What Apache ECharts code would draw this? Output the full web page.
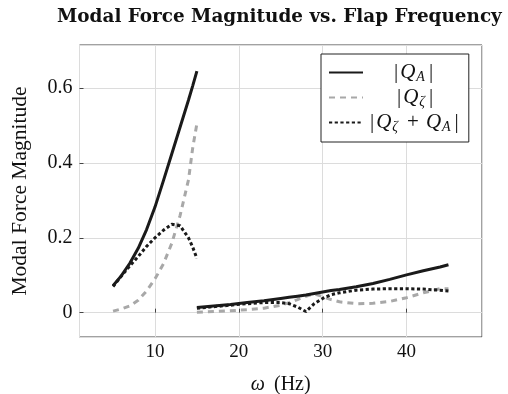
<!DOCTYPE html>
<html><head><meta charset="utf-8">
<script src="https://cdn.jsdelivr.net/npm/echarts@6/dist/echarts.min.js"></script>
<style>html,body{margin:0;padding:0;background:#fff}#c{width:508px;height:394px}</style>
</head><body><div id="c"></div>
<script>
// Segment 1 (below 15 Hz)
const freq1 = [5, 6, 7, 8, 9, 10, 11, 12, 13, 14, 14.5, 15];
const qA1   = [0.072, 0.099, 0.132, 0.172, 0.222, 0.282, 0.352, 0.424, 0.496, 0.568, 0.606, 0.645];
const qZ1   = [0.004, 0.010, 0.018, 0.033, 0.058, 0.090, 0.130, 0.185, 0.260, 0.355, 0.440, 0.505];
const qZA1  = [0.070, 0.098, 0.125, 0.150, 0.177, 0.200, 0.220, 0.236, 0.232, 0.200, 0.175, 0.145];
// Segment 2 (15 Hz and above)
const freq2 = [15, 17, 19, 21, 23, 25, 26, 27, 28, 29, 30, 31, 32, 34, 36, 38, 40, 42, 44, 45];
const qA2   = [0.014, 0.018, 0.022, 0.027, 0.032, 0.038, 0.041, 0.044, 0.047, 0.051, 0.055, 0.059, 0.062, 0.069, 0.078, 0.089, 0.101, 0.112, 0.122, 0.128];
const qZ2   = [0.001, 0.003, 0.005, 0.008, 0.012, 0.020, 0.027, 0.035, 0.044, 0.050, 0.043, 0.035, 0.029, 0.024, 0.025, 0.030, 0.040, 0.053, 0.064, 0.064];
const qZA2  = [0.012, 0.016, 0.020, 0.024, 0.027, 0.027, 0.024, 0.015, 0.003, 0.024, 0.038, 0.048, 0.053, 0.060, 0.063, 0.064, 0.064, 0.063, 0.060, 0.058];
const xTicks = [10, 20, 30, 40];
const yTicks = [0, 0.2, 0.4, 0.6];
const seriesNames = ['QA', 'QZ', 'QZA'];

function join(f1, v1, f2, v2) {
  const out = f1.map((x, i) => [x, v1[i]]);
  out.push([f1[f1.length - 1], '-']);
  f2.forEach((x, i) => out.push([x, v2[i]]));
  return out;
}

const serif = '"Liberation Serif", "DejaVu Serif", serif';
const chart = echarts.init(document.getElementById('c'), null, {renderer: 'canvas'});
const mathRich = {
  b: {fontFamily: serif, fontSize: 21, lineHeight: 25, color: '#111', padding: [0, 2, 0, 2]},
  q: {fontFamily: serif, fontStyle: 'italic', fontSize: 21, lineHeight: 25, color: '#111'},
  s: {fontFamily: serif, fontStyle: 'italic', fontSize: 14, verticalAlign: 'bottom', padding: [0, 2, 1, 1], color: '#111'},
  p: {fontFamily: serif, fontSize: 21, lineHeight: 25, color: '#111', padding: [0, 7, 0, 7]},
  sp1: {width: 24}, sp2: {width: 27}
};
chart.setOption({
  animation: false,
  backgroundColor: '#fff',
  title: {
    text: 'Modal Force Magnitude vs. Flap Frequency',
    left: 52, top: 3,
    textStyle: {fontFamily: '"DejaVu Serif", serif', fontWeight: 'bold', fontSize: 18.4, color: '#111'}
  },
  grid: {left: 79.5, right: 26, top: 45, bottom: 57, show: true, borderColor: '#444', borderWidth: 1,
         outerBoundsMode: 'none', containLabel: false},
  legend: {
    orient: 'vertical', left: 321, top: 54, padding: [8, 8, 8, 7], itemGap: 3,
    itemWidth: 34, itemHeight: 14,
    backgroundColor: '#fff', borderColor: '#222', borderWidth: 1, borderRadius: 0,
    itemStyle: {color: 'rgba(0,0,0,0)', borderColor: 'rgba(0,0,0,0)', borderWidth: 0},
    data: seriesNames,
    formatter: function (n) {
      if (n === 'QA') return '{sp1| }{b||}{q|Q}{s|A}{b||}';
      if (n === 'QZ') return '{sp2| }{b||}{q|Q}{s|ζ}{b||}';
      return '{b||}{q|Q}{s|ζ}{p|+}{q|Q}{s|A}{b||}';
    },
    textStyle: {rich: mathRich}
  },
  xAxis: {
    type: 'value', min: 1, max: 49, splitNumber: 5,
    name: '{i|ω} (Hz)', nameLocation: 'middle', nameGap: 38,
    nameTextStyle: {fontFamily: serif, fontSize: 20, color: '#111',
      rich: {i: {fontFamily: serif, fontStyle: 'italic', fontSize: 20, color: '#111', padding: [0, 4, 0, 0]}}},
    axisLine: {show: false},
    axisTick: {show: true, inside: true, length: 4, lineStyle: {color: '#444'}},
    axisLabel: {showMinLabel: false, showMaxLabel: false, fontFamily: serif, fontSize: 19, color: '#111', margin: 6,
      formatter: v => xTicks.includes(v) ? String(v) : ''},
    splitLine: {show: true, lineStyle: {color: '#dcdcdc', width: 1}}
  },
  yAxis: {
    type: 'value', min: -0.065, max: 0.715, splitNumber: 4,
    name: 'Modal Force Magnitude', nameLocation: 'middle', nameGap: 48,
    nameTextStyle: {fontFamily: serif, fontSize: 21.5, color: '#111'},
    axisLine: {show: false},
    axisTick: {show: true, inside: true, length: 4, lineStyle: {color: '#444'}},
    axisLabel: {showMinLabel: false, showMaxLabel: false, fontFamily: serif, fontSize: 20, color: '#111', margin: 7,
      formatter: v => { const t = yTicks.find(y => Math.abs(y - v) < 1e-9); return t === undefined ? '' : String(t); }},
    splitLine: {show: true, lineStyle: {color: '#dcdcdc', width: 1}}
  },
  series: [
    {name: 'QZ', type: 'line', data: join(freq1, qZ1, freq2, qZ2), showSymbol: false, symbol: 'none', z: 2,
     lineStyle: {color: '#a8a8a8', width: 3, type: [6, 5]}, itemStyle: {color: '#a8a8a8'}},
    {name: 'QA', type: 'line', data: join(freq1, qA1, freq2, qA2), showSymbol: false, symbol: 'none', z: 3,
     lineStyle: {color: '#1a1a1a', width: 3}, itemStyle: {color: '#1a1a1a'}},
    {name: 'QZA', type: 'line', data: join(freq1, qZA1, freq2, qZA2), showSymbol: false, symbol: 'none', z: 4,
     lineStyle: {color: '#1a1a1a', width: 3, type: [3.2, 2.5]}, itemStyle: {color: '#1a1a1a'}}
  ]
});
</script></body></html>
